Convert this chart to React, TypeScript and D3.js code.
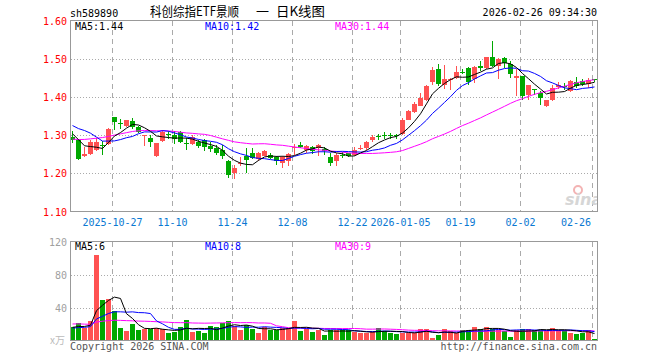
import React from "react";
import * as d3 from "d3";

const dates = [
  "2025-10-16","2025-10-17","2025-10-20","2025-10-21","2025-10-22","2025-10-23","2025-10-24","2025-10-27","2025-10-28","2025-10-29","2025-10-30","2025-10-31",
  "2025-11-03","2025-11-04","2025-11-05","2025-11-06","2025-11-07","2025-11-10","2025-11-11","2025-11-12","2025-11-13","2025-11-14",
  "2025-11-17","2025-11-18","2025-11-19","2025-11-20","2025-11-21","2025-11-24","2025-11-25","2025-11-26","2025-11-27","2025-11-28",
  "2025-12-01","2025-12-02","2025-12-03","2025-12-04","2025-12-05","2025-12-08","2025-12-09","2025-12-10","2025-12-11","2025-12-12",
  "2025-12-15","2025-12-16","2025-12-17","2025-12-18","2025-12-19","2025-12-22","2025-12-23","2025-12-24","2025-12-25","2025-12-26",
  "2025-12-29","2025-12-30","2025-12-31",
  "2026-01-05","2026-01-06","2026-01-07","2026-01-08","2026-01-09","2026-01-12","2026-01-13","2026-01-14","2026-01-15","2026-01-16",
  "2026-01-19","2026-01-20","2026-01-21","2026-01-22","2026-01-23","2026-01-26","2026-01-27","2026-01-28","2026-01-29","2026-01-30",
  "2026-02-02","2026-02-03","2026-02-04","2026-02-05","2026-02-06","2026-02-09","2026-02-10","2026-02-11","2026-02-12","2026-02-13",
  "2026-02-24","2026-02-25","2026-02-26",
];

const open = [
  1.294,1.288,1.246,1.251,1.261,1.274,1.277,1.347,1.332,1.325,1.338,1.321,1.297,1.293,1.246,1.284,1.303,1.301,1.307,1.279,
  1.277,1.281,1.288,1.272,1.265,1.261,1.232,1.202,1.225,1.245,1.252,1.237,1.246,1.249,1.242,1.228,1.233,1.268,1.275,1.261,
  1.268,1.265,1.263,1.242,1.232,1.249,1.253,1.247,1.265,1.267,1.286,1.297,1.301,1.300,1.301,1.302,1.340,1.360,1.377,1.391,
  1.440,1.472,1.432,1.443,1.450,1.466,1.476,1.446,1.482,1.475,1.504,1.482,1.502,1.486,1.449,1.456,1.406,1.421,1.410,1.377,
  1.391,1.426,1.428,1.415,1.439,1.441,1.435,1.446,
];
const high = [
  1.310,1.290,1.270,1.288,1.292,1.285,1.319,1.347,1.342,1.340,1.344,1.325,1.300,1.300,1.279,1.314,1.310,1.312,1.310,1.292,
  1.300,1.288,1.290,1.281,1.275,1.274,1.235,1.222,1.242,1.265,1.265,1.255,1.261,1.254,1.244,1.246,1.252,1.277,1.282,1.274,
  1.272,1.277,1.270,1.253,1.253,1.256,1.254,1.268,1.274,1.284,1.300,1.303,1.309,1.305,1.302,1.344,1.367,1.386,1.411,1.432,
  1.478,1.485,1.483,1.450,1.481,1.474,1.479,1.482,1.494,1.504,1.547,1.503,1.504,1.495,1.474,1.456,1.432,1.421,1.415,1.393,
  1.432,1.439,1.437,1.444,1.453,1.447,1.450,1.447,
];
const low = [
  1.280,1.235,1.242,1.249,1.259,1.248,1.275,1.314,1.316,1.321,1.316,1.305,1.272,1.270,1.242,1.283,1.290,1.278,1.280,1.261,
  1.274,1.267,1.259,1.257,1.247,1.237,1.189,1.186,1.220,1.200,1.238,1.233,1.244,1.237,1.222,1.214,1.219,1.249,1.265,1.254,
  1.251,1.246,1.249,1.218,1.218,1.240,1.242,1.245,1.261,1.261,1.283,1.288,1.289,1.289,1.289,1.300,1.339,1.357,1.375,1.388,
  1.430,1.428,1.420,1.419,1.447,1.459,1.432,1.437,1.468,1.474,1.479,1.446,1.476,1.450,1.402,1.393,1.391,1.405,1.380,1.373,
  1.389,1.421,1.419,1.412,1.424,1.428,1.424,1.440,
];
const close = [
  1.288,1.238,1.251,1.283,1.281,1.272,1.317,1.335,1.328,1.339,1.321,1.309,1.299,1.281,1.279,1.309,1.300,1.291,1.283,1.277,
  1.296,1.272,1.268,1.263,1.253,1.244,1.196,1.213,1.227,1.236,1.240,1.253,1.258,1.239,1.231,1.242,1.250,1.270,1.270,1.272,
  1.258,1.274,1.258,1.228,1.249,1.246,1.244,1.261,1.266,1.282,1.296,1.295,1.297,1.297,1.298,1.340,1.363,1.382,1.396,1.428,
  1.471,1.435,1.446,1.446,1.465,1.465,1.439,1.479,1.476,1.504,1.481,1.498,1.489,1.461,1.456,1.402,1.430,1.418,1.397,1.391,
  1.424,1.432,1.426,1.441,1.428,1.435,1.444,1.443,
];
// volume in 万
const volume = [
  16,21.6,15.6,23.6,104,48.8,50.8,35.6,15.6,11.6,20,12.8,13.6,13.6,14.8,13.6,8.8,10.4,16.4,24.8,
  10.4,11.6,9.6,17.6,16,20.8,23.6,17.6,12.8,18.8,14,9.6,16,12.8,12.8,15.6,14.8,23.7,12,14,
  10.8,13.3,6.9,12.9,12.3,12.3,12.3,9.8,9.4,8.8,10.4,15.6,11.6,9.6,8,9.6,9.6,9.6,13.6,14,
  3.2,6.8,14,11.6,9.6,12.8,12.8,16.4,14,16.4,13.6,12.8,11.6,4.8,12.8,14,14,12.8,12.8,11.6,
  15.2,12.8,12.8,9.6,8,9.6,12.8,2,
];
// estimated sessions before the visible window (feed the moving averages)
const priorCloses = [
  1.269,1.245,1.238,1.229,1.222,1.226,1.231,1.236,1.240,1.230,1.255,1.272,1.288,1.296,1.305,
  1.318,1.331,1.342,1.336,1.326,1.318,1.301,1.353,1.384,1.3765,1.3155,1.331,1.293,1.290,
];
const priorVolumes = [
  18,25,30,22,19,27,24,20,21,26,23,18,22,25,20,24,21,19,23,24,15,13,14,12,16,17,15,16,16,
];

const tickDates = ["2025-10-27","2025-11-10","2025-11-24","2025-12-08","2025-12-22","2026-01-05","2026-01-19","2026-02-02","2026-02-26"];
const tickLabels = ["2025-10-27","11-10","11-24","12-08","12-22","2026-01-05","01-19","02-02","02-26"];
const priceTicks = [1.1, 1.2, 1.3, 1.4, 1.5, 1.6];
const volTicks = [40, 80, 120];
const maPeriods = [5, 10, 30];
const maColors = ["#000000", "#0000ff", "#ff00ff"];
const priceMaLabels = ["MA5:1.44", "MA10:1.42", "MA30:1.44"];
const volMaLabels = ["MA5:6", "MA10:8", "MA30:9"];
const titleParts = ["科创综指ETF景顺", "一", "日K线图"];

const MONO = "'DejaVu Sans Mono', 'Liberation Mono', monospace";
const CJK = "'Noto Sans CJK SC', sans-serif";
const RED = "#ff5252";
const GREEN = "#00a800";

function movingAvg(prior: number[], vals: number[], n: number) {
  const all = prior.concat(vals);
  const off = prior.length;
  return vals.map((_, i) => d3.mean(all.slice(off + i - n + 1, off + i + 1)) as number);
}

export default function App() {
  const L = 70.5, R = 597.5;
  const x = d3.scalePoint<string>().domain(dates).range([72.5, 594.5]);
  const y = d3.scaleLinear().domain([1.1, 1.6]).range([211.5, 20.5]);
  const yv = d3.scaleLinear().domain([0, 120]).range([340.5, 241.5]);

  const priceMAs = maPeriods.map((n) => movingAvg(priorCloses, close, n));
  const volMAs = maPeriods.map((n) => movingAvg(priorVolumes, volume, n));

  const lineP = d3.line<number>().x((_, i) => x(dates[i]) as number).y((d) => y(d));
  const lineV = d3.line<number>().x((_, i) => x(dates[i]) as number).y((d) => yv(d));

  const vlines = tickDates.map((d) => (x(d) as number) - 2);
  const titleX = [150, 256, 276];
  const titleLen = [89, 13, 49];

  return (
    <svg width={660} height={360} style={{ position: "absolute", left: 0, top: 0, background: "#fff" }}>
      <defs>
        <clipPath id="mainClip"><rect x={L} y={20.5} width={R - L} height={191} /></clipPath>
        <clipPath id="volClip"><rect x={L} y={241.5} width={R - L} height={99} /></clipPath>
      </defs>
      {/* header */}
      <text x={70} y={16.5} fontFamily={MONO} fontSize={10} fill="#000">sh589890</text>
      {titleParts.map((s, i) => (
        <text key={s} x={titleX[i]} y={16} fontFamily={CJK} fontSize={13} fill="#000" textLength={titleLen[i]} lengthAdjust="spacingAndGlyphs">{s}</text>
      ))}
      <text x={597} y={16} textAnchor="end" fontFamily={MONO} fontSize={10} fill="#000">2026-02-26 09:34:30</text>

      {/* main panel grid */}
      <g shapeRendering="crispEdges">
        {priceTicks.filter((t) => t > 1.1 && t < 1.6).map((t) => (
          <line key={t} x1={L} x2={R} y1={Math.round(y(t)) + 0.5} y2={Math.round(y(t)) + 0.5} stroke="#aaa" strokeDasharray="1,2" />
        ))}
        {vlines.map((vx, i) => (
          <line key={i} x1={vx} x2={vx} y1={20.5} y2={211.5} stroke="#aaa" strokeDasharray="5,4" />
        ))}
      </g>
      {/* watermark */}
      <g clipPath="url(#mainClip)">
        <circle cx={578} cy={190} r={4} fill="none" stroke="#f3b3b3" strokeWidth={2} />
        <text x={565} y={205} fontFamily="'DejaVu Sans', sans-serif" fontSize={16} fontWeight="bold" fontStyle="italic" fill="#d6d6d6">sina</text>
      </g>
      {priceTicks.map((t) => (
        <text key={t} x={67} y={y(t) + 4} textAnchor="end" fontFamily={MONO} fontSize={10} fill="#ff0000">{t.toFixed(2)}</text>
      ))}
      {/* candles */}
      <g shapeRendering="crispEdges" clipPath="url(#mainClip)">
        {dates.map((d, i) => {
          const cx = x(d) as number;
          const up = close[i] >= open[i];
          const col = up ? RED : GREEN;
          const top = Math.round(y(Math.max(open[i], close[i])));
          const bot = Math.round(y(Math.min(open[i], close[i])));
          return (
            <g key={d}>
              <line x1={cx} x2={cx} y1={Math.round(y(high[i]))} y2={Math.round(y(low[i]))} stroke={col} />
              <rect x={cx - 2.5} y={top} width={5} height={Math.max(1, bot - top)} fill={col} />
            </g>
          );
        })}
      </g>
      <g clipPath="url(#mainClip)">
        {[2, 1, 0].map((k) => (
          <path key={k} d={lineP(priceMAs[k]) as string} fill="none" stroke={maColors[k]} strokeWidth={1} />
        ))}
      </g>
      {priceMaLabels.map((s, k) => (
        <text key={s} x={[75, 205, 335][k]} y={30} fontFamily={MONO} fontSize={10} fill={maColors[k]}>{s}</text>
      ))}
      <rect x={L} y={20.5} width={R - L} height={191} fill="none" stroke="#999" shapeRendering="crispEdges" />

      {/* x labels */}
      {tickLabels.map((s, i) => {
        const cx = vlines[i];
        const w = s.length * 6;
        const overflow = cx + w / 2 > R;
        return (
          <text key={s} x={overflow ? cx - 1.5 : cx} y={225.5} textAnchor={overflow ? "end" : "middle"} fontFamily={MONO} fontSize={10} fill="#0a78d2">{s}</text>
        );
      })}

      {/* volume panel */}
      <g shapeRendering="crispEdges">
        {volTicks.filter((t) => t < 120).map((t) => (
          <line key={t} x1={L} x2={R} y1={Math.round(yv(t)) + 0.5} y2={Math.round(yv(t)) + 0.5} stroke="#aaa" strokeDasharray="1,2" />
        ))}
        {vlines.map((vx, i) => (
          <line key={i} x1={vx} x2={vx} y1={241.5} y2={340.5} stroke="#aaa" strokeDasharray="5,4" />
        ))}
      </g>
      {volTicks.map((t) => (
        <text key={t} x={67} y={yv(t) + 4} textAnchor="end" fontFamily={MONO} fontSize={10} fill="#a0a0a0">{t}</text>
      ))}
      <text x={65} y={344} textAnchor="end" fontFamily={CJK} fontSize={10} fill="#bbb">x万</text>
      <g shapeRendering="crispEdges" clipPath="url(#volClip)">
        {dates.map((d, i) => {
          const cx = x(d) as number;
          const up = close[i] >= open[i];
          const top = Math.round(yv(volume[i]));
          return <rect key={d} x={cx - 2.5} y={top} width={5} height={340.5 - top} fill={up ? RED : GREEN} />;
        })}
      </g>
      <g clipPath="url(#volClip)">
        {[2, 1, 0].map((k) => (
          <path key={k} d={lineV(volMAs[k]) as string} fill="none" stroke={maColors[k]} strokeWidth={1} />
        ))}
      </g>
      {volMaLabels.map((s, k) => (
        <text key={s} x={[75, 205, 335][k]} y={250} fontFamily={MONO} fontSize={10} fill={maColors[k]}>{s}</text>
      ))}
      <rect x={L} y={241.5} width={R - L} height={99} fill="none" stroke="#999" shapeRendering="crispEdges" />

      <text x={70} y={349.5} fontFamily={MONO} fontSize={10} fill="#555">Copyright 2026 SINA.COM</text>
      <text x={597} y={349.5} textAnchor="end" fontFamily={MONO} fontSize={10} fill="#555">http://finance.sina.com.cn</text>
    </svg>
  );
}
